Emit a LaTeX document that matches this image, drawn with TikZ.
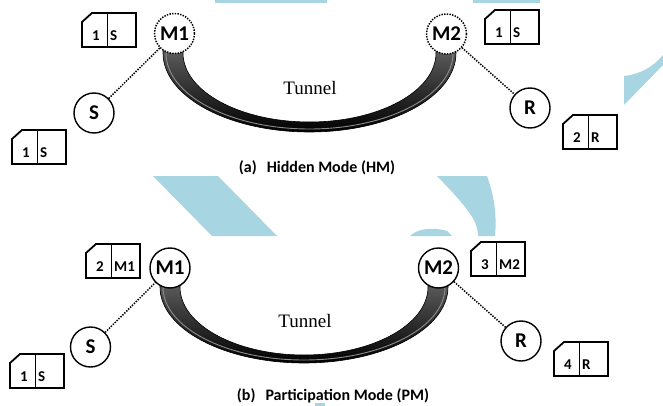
\documentclass[tikz,border=0pt]{standalone}
\usepackage{fontspec}
\setmainfont{Liberation Serif}
\setsansfont{Carlito}
\definecolor{wmblue}{RGB}{168,213,226}
\tikzset{
  host/.style={circle, draw, fill=white, line width=1.4pt, minimum size=40pt, inner sep=0pt,
    font=\sffamily\bfseries\fontsize{21}{21}\selectfont},
  hidden/.style={host, dash pattern=on 1.4pt off 1.3pt, line width=1.5pt},
  link/.style={line width=1.5pt, dash pattern=on 1.4pt off 1.3pt},
  tube/.style={top color=black!62, bottom color=black, draw=black, line width=0.6pt},
  shine/.style={draw=black!45, line width=0.9pt},
  caption/.style={font=\sffamily\bfseries\fontsize{16}{16}\selectfont},
  tunnellabel/.style={font=\fontsize{19}{19}\selectfont},
  pktlabel/.style={font=\sffamily\bfseries\fontsize{15}{15}\selectfont, inner sep=0pt},
}
% packet: name, top-left x, top-left y, left field, right field
\newcommand{\packet}[5]{%
  \begin{scope}[shift={(#2,#3)}]
    \draw[line width=1.8pt] (0,9) -- (10,0) -- (54,0) -- (54,34) -- (0,34) -- cycle;
    \draw[line width=0.6pt] (25,0) -- (25,34);
    \node[pktlabel] (#1-l) at (14,23) {#4};
    \node[pktlabel, anchor=west] (#1-r) at (28,23) {#5};
  \end{scope}}
\begin{document}
\begin{tikzpicture}[x=1pt, y=-1pt]
  \useasboundingbox (0,0) rectangle (663,406);
  \fill[white] (0,0) rectangle (663,406);
  % Watermark
  \fill[wmblue] (215,0) rectangle (327,3);
  \fill[wmblue] (473,0) rectangle (540,3);
  \fill[wmblue] (624,76) .. controls (640,74) and (652,68) .. (663,55) -- (663,65) -- (624,105) -- cycle;
  \fill[wmblue] (153,176) -- (218,176) -- (277,236) -- (212,236) -- cycle;
  \fill[wmblue] (437,176) -- (487,176) .. controls (494,195) and (497,215) .. (495,236) -- (478,236)
    .. controls (478,222) and (470,210) .. cycle;
  \fill[wmblue] (410,236) .. controls (416,230) and (430,226) .. (447,231) -- (452,236) -- cycle;
  \fill[wmblue] (315,403) rectangle (325,406);
  % Tunnels
  \path[tube] (163,45) -- (163,53) arc[start angle=180, end angle=0, x radius=146.5, y radius=79]
    -- (456,45) -- (436,45) -- (436,53) arc[start angle=0, end angle=180, x radius=126.5, y radius=69]
    -- (183,45) -- cycle;
  \path[shine] (166,53) arc[start angle=180, end angle=0, x radius=143.5, y radius=76];
  \path[tube] (160,279) -- (160,287) arc[start angle=180, end angle=0, x radius=144, y radius=76]
    -- (448,279) -- (428,279) -- (428,287) arc[start angle=0, end angle=180, x radius=124, y radius=68]
    -- (180,279) -- cycle;
  \path[shine] (163,287) arc[start angle=180, end angle=0, x radius=141, y radius=73];
  \node[tunnellabel] (tunnel-a) at (310,88) {Tunnel};
  \node[tunnellabel] (tunnel-b) at (305,321) {Tunnel};
  % Hidden mode
  \node[hidden] (m1-a) at (174.5,33.5) {M1};
  \node[hidden] (m2-a) at (446.5,34) {M2};
  \node[host] (s-a) at (94,113) {S};
  \node[host] (r-a) at (530,108) {R};
  \draw[link] (s-a) -- (m1-a);
  \draw[link] (m2-a) -- (r-a);
  \node[caption] (cap-a) at (317,168) {(a)\hspace{10pt}Hidden Mode (HM)};
  % Participation mode
  \node[host] (m1-b) at (170,268) {M1};
  \node[host] (m2-b) at (438.5,268) {M2};
  \node[host] (s-b) at (90.5,347) {S};
  \node[host] (r-b) at (521,341) {R};
  \draw[link] (s-b) -- (m1-b);
  \draw[link] (m2-b) -- (r-b);
  \node[caption] (cap-b) at (333,395.5) {(b)\hspace{10pt}Participation Mode (PM)};
  % Packets
  \foreach \name/\px/\py/\fa/\fb in {pkt-a1/82/13/1/S, pkt-a2/12/130/1/S, pkt-a3/485/10/1/S,
      pkt-a4/563/115/2/R, pkt-b1/86/244/2/M1, pkt-b2/10/354/1/S, pkt-b3/471/242/3/M2, pkt-b4/554/342/4/R}
    {\packet{\name}{\px}{\py}{\fa}{\fb}}
\end{tikzpicture}
\end{document}
